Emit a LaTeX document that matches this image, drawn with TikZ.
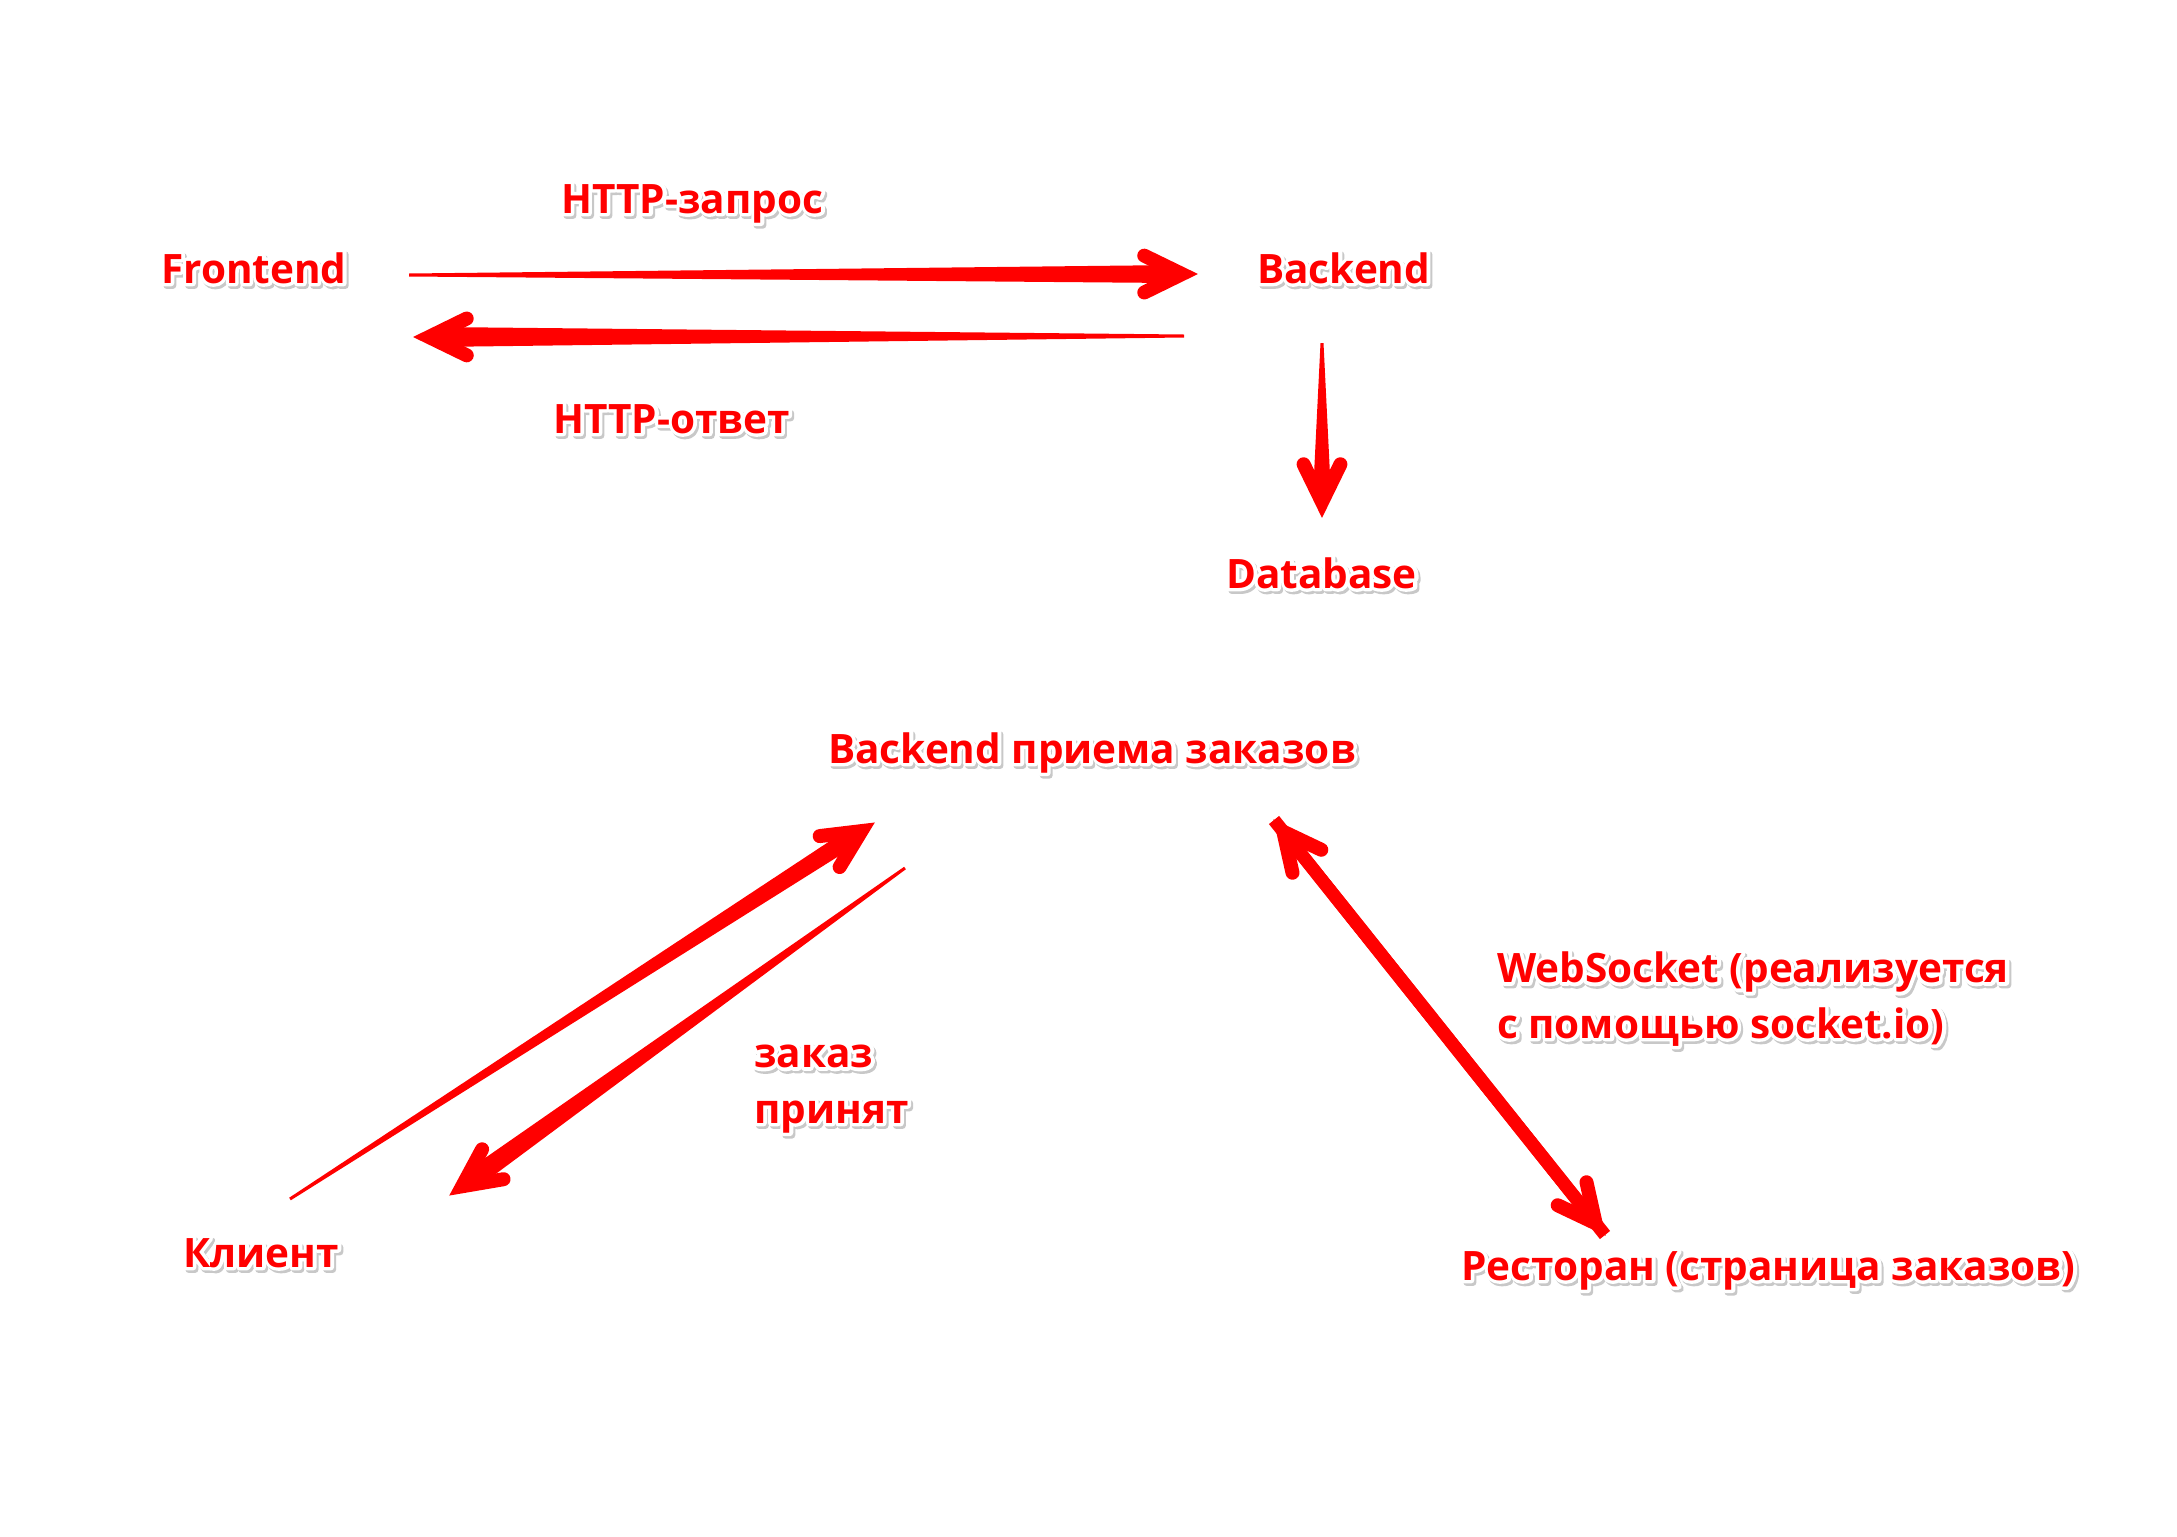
\documentclass[tikz,border=0pt]{standalone}
\usepackage{fontspec}
\newfontfamily\lblfont{Open Sans}
\newfontfamily\halofont{Open Sans}[BoldFeatures={FakeBold=17}]
\usetikzlibrary{calc}
\definecolor{haloshadow}{RGB}{200,200,200}

% white outline with a light shadow round a label
\newcommand\halo[1]{%
  \special{pdf:code 1 j}%
  \rlap{\halofont\bfseries\kern2pt\raisebox{-2.5pt}{\color{haloshadow}#1}}%
  \rlap{\halofont\bfseries\color{white}#1}%
  #1}

% #1 from, #2 tip
\newcommand\fathead[2]{%
  \coordinate (v) at ($(#2)!15pt!(#1)$);
  \draw[headline] ($(v)!42pt!26:(#1)$) -- (v) -- ($(v)!42pt!-26:(#1)$);}
% #1 start, #2 tip, #3 and #4 half widths
\newcommand\fatshaft[4]{%
  \coordinate (e) at ($(#2)!22pt!(#1)$);
  \fill[shaftfill] ($(#1)!#3!90:(#2)$) -- ($(e)!#4!90:(#2)$)
    -- ($(e)!#4!-90:(#2)$) -- ($(#1)!#3!-90:(#2)$) -- cycle;}

\begin{document}
\begin{tikzpicture}[x=1pt,y=-1pt,
lbl/.style={anchor=base west,inner sep=0pt,text=red,
  font=\lblfont\bfseries\fontsize{40.5}{55.5}\selectfont},
headline/.style={red,line width=14pt,line cap=round,line join=miter},
shaftfill/.style={fill=red}]

\fill[white] (0,0) rectangle (2177,1537);
\useasboundingbox (0,0) rectangle (2177,1537);

\node[lbl] (front) at (161,283) {\halo{Frontend}};
\node[lbl] (back) at (1257,283) {\halo{Backend}};
\node[lbl] (req) at (561,213) {\halo{HTTP-запрос}};
\node[lbl] (resp) at (553,433) {\halo{HTTP-ответ}};
\node[lbl] (db) at (1226,588) {\halo{Database}};
\node[lbl] (orders) at (828,763) {\halo{Backend приема заказов}};
\node[lbl] (client) at (183,1267) {\halo{Клиент}};
\node[lbl] (rest) at (1461,1280) {\halo{Ресторан (страница заказов)}};
\node[lbl,align=left] (ws) at (1497,1038) {\halo{WebSocket (реализуется}\\\halo{с помощью socket.io)}};
\node[lbl,align=left] (acc) at (754,1123) {\halo{заказ}\\\halo{принят}};

\coordinate (fa) at (409,275);
\coordinate (fb) at (1197,274);
\coordinate (ba) at (1184,336);
\coordinate (bb) at (414,337);
\coordinate (da) at (1322,343);
\coordinate (db) at (1322,517);
\coordinate (ca) at (290,1199);
\coordinate (cb) at (874,823);
\coordinate (oa) at (905,868);
\coordinate (ob) at (450,1195);
\coordinate (wa) at (1274,820);
\coordinate (wb) at (1605,1235);

\fatshaft{fa}{fb}{1.5pt}{9pt}  \fathead{fa}{fb}
\fatshaft{ba}{bb}{1.5pt}{10pt} \fathead{ba}{bb}
\fatshaft{da}{db}{1.5pt}{9pt}  \fathead{da}{db}
\fatshaft{ca}{cb}{1.5pt}{9pt}  \fathead{ca}{cb}
\fatshaft{oa}{ob}{1.5pt}{10pt} \fathead{oa}{ob}
\fatshaft{wb}{wa}{6.5pt}{6.5pt} \fathead{wb}{wa}
\fatshaft{wa}{wb}{6.5pt}{6.5pt} \fathead{wa}{wb}

\end{tikzpicture}
\end{document}
